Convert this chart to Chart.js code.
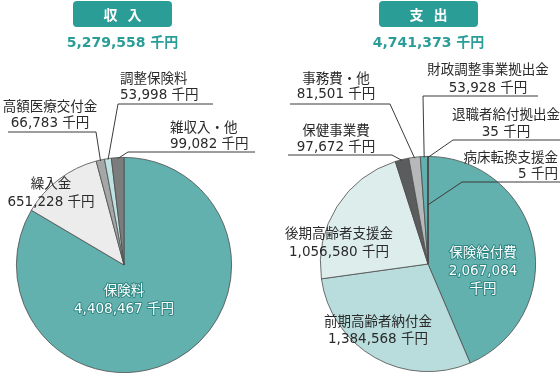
<!DOCTYPE html>
<html>
<head>
<meta charset="utf-8">
<script src="https://cdn.jsdelivr.net/npm/chart.js@4/dist/chart.umd.min.js"></script>
<style>
html,body{margin:0;padding:0;background:#fff;}
#wrap{position:relative;width:560px;height:375px;overflow:hidden;}
canvas{position:absolute;top:0;}
#c1{left:0;}
#c2{left:280px;}
</style>
</head>
<body>
<div id="wrap">
<canvas id="c1" width="280" height="375"></canvas>
<canvas id="c2" width="280" height="375"></canvas>
</div>
<script>
// ---- data ----
const incomeTitle = '収入';
const incomeTotal = 5279558;
const incomeLabels = ['保険料', '繰入金', '高額医療交付金', '調整保険料', '雑収入・他'];
const incomeValues = [4408467, 651228, 66783, 53998, 99082];

const expenseTitle = '支出';
const expenseTotal = 4741373;
const expenseLabels = ['保険給付費', '前期高齢者納付金', '後期高齢者支援金', '保健事業費', '事務費・他', '財政調整事業拠出金', '退職者給付拠出金', '病床転換支援金'];
const expenseValues = [2067084, 1384568, 1056580, 97672, 81501, 53928, 35, 5];

const unit = '千円';

// ---- styles ----
const incomeColors = ['#62b1ae', '#ebeceb', '#a5a7a7', '#bfe2e2', '#7b7c7c'];
const expenseColors = ['#62b1ae', '#b9dcdc', '#dcedec', '#5b5c5d', '#b6b8b9', '#62b1ae', '#4a4a4a', '#4a4a4a'];
const TEAL = '#2b9d97';
const FONT = '"DejaVu Sans", "Noto Sans CJK JP", sans-serif';
const CJK = '"Noto Sans CJK JP", sans-serif';

function fmt(v){ return v.toLocaleString('en-US'); }

// label layout (page coordinates)
const incomeLayout = [
  {x:124, ys:[291,309], align:'center', white:true},
  {x:51, ys:[184,202], align:'center'},
  {x:50, ys:[107,123], align:'center', line:[[8,132],[96,132]]},
  {x:120, ys:[79,95], align:'left', line:[[213,104],[118,104]]},
  {x:170, ys:[128,144], align:'left', line:[[255,152],[128,152]]}
];
const expenseLayout = [
  {x:483, ys:[253,271,289], align:'center', white:true, split:true},
  {x:378, ys:[322,339], align:'center'},
  {x:339, ys:[234,252], align:'center'},
  {x:336, ys:[131,147], align:'center', line:[[288,155],[392,155]]},
  {x:336, ys:[79,94], align:'center', line:[[290,104],[390,104]]},
  {x:488, ys:[70,88], align:'center', line:[[538,96],[423,96]]},
  {x:506, ys:[115,132], align:'center', line:[[560,140],[453,140]]},
  {x:558, ys:[158,174], align:'right', line:[[560,182],[462,182]], r:0.55}
];

function makePlugin(title, total, labels, values, layout, offX, boxX){
  return {
    id:'labels'+offX,
    afterDraw(chart){
      const ctx = chart.ctx;
      const meta = chart.getDatasetMeta(0);
      ctx.save();
      // title box
      const bx = boxX - offX, bw = 99, by = 1, bh = 26;
      ctx.fillStyle = TEAL;
      ctx.beginPath();
      ctx.roundRect(bx, by, bw, bh, 4);
      ctx.fill();
      ctx.fillStyle = '#fff';
      ctx.font = 'bold 14px ' + CJK;
      ctx.textAlign = 'center';
      ctx.textBaseline = 'middle';
      const cx = bx + bw/2;
      ctx.fillText(title[0], cx - 12, by + bh/2 + 1);
      ctx.fillText(title[1], cx + 12, by + bh/2 + 1);
      // total
      ctx.fillStyle = TEAL;
      ctx.font = 'bold 14px ' + FONT;
      ctx.fillText(fmt(total) + ' ' + unit, cx, 43);

      // leader lines
      ctx.strokeStyle = '#3a3a3a';
      ctx.lineWidth = 1;
      layout.forEach((L, i) => {
        if (!L.line) return;
        const arc = meta.data[i];
        const mid = (arc.startAngle + arc.endAngle) / 2;
        const rr = arc.outerRadius * (L.r || 1) - (L.r ? 0 : 1);
        const ax = arc.x + Math.cos(mid) * rr;
        const ay = arc.y + Math.sin(mid) * rr;
        ctx.beginPath();
        ctx.moveTo(L.line[0][0] - offX, L.line[0][1]);
        for (let k = 1; k < L.line.length; k++) ctx.lineTo(L.line[k][0] - offX, L.line[k][1]);
        ctx.lineTo(ax, ay);
        ctx.stroke();
      });

      // labels
      ctx.font = '13.5px ' + FONT;
      layout.forEach((L, i) => {
        const lines = L.split ? [labels[i], fmt(values[i]), unit] : [labels[i], fmt(values[i]) + ' ' + unit];
        ctx.textAlign = L.align;
        lines.forEach((t, k) => {
          const x = L.x - offX, y = L.ys[k];
          if (L.white) {
            ctx.lineJoin = 'round';
            ctx.strokeStyle = 'rgba(40,130,126,0.9)';
            ctx.lineWidth = 2;
            ctx.strokeText(t, x, y);
            ctx.fillStyle = '#ffffff';
          } else {
            ctx.fillStyle = '#2a2a2a';
          }
          ctx.fillText(t, x, y);
        });
      });
      ctx.restore();
    }
  };
}

function makeChart(id, labels, values, colors, padding, plugin){
  return new Chart(document.getElementById(id), {
    type:'pie',
    data:{labels:labels, datasets:[{data:values, backgroundColor:colors, borderColor:'#4d4d4d', borderWidth:0.8}]},
    options:{
      responsive:false, animation:false,
      layout:{padding:padding},
      plugins:{legend:{display:false}, tooltip:{enabled:false}, title:{display:false}}
    },
    plugins:[plugin]
  });
}

makeChart('c1', incomeLabels, incomeValues, incomeColors,
  {left:16, right:48, top:157, bottom:2},
  makePlugin(incomeTitle, incomeTotal, incomeLabels, incomeValues, incomeLayout, 0, 73));
makeChart('c2', expenseLabels, expenseValues, expenseColors,
  {left:40, right:24, top:156, bottom:3},
  makePlugin(expenseTitle, expenseTotal, expenseLabels, expenseValues, expenseLayout, 280, 379));
</script>
</body>
</html>
